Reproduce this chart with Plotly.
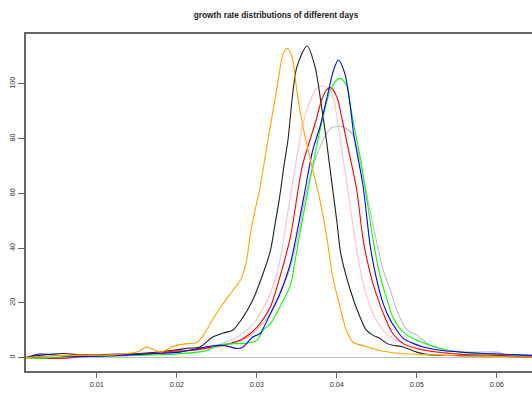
import plotly.graph_objects as go

title_text = "growth rate distributions of different days"

orange_x = [0.0012, 0.004, 0.008, 0.012, 0.0152, 0.0161, 0.017, 0.018, 0.0195, 0.021, 0.0225, 0.0235, 0.0245, 0.0255, 0.027, 0.028, 0.0287, 0.0292, 0.0298, 0.0304, 0.0314, 0.0325, 0.0333, 0.0338, 0.0344, 0.035, 0.0356, 0.0364, 0.037, 0.0379, 0.0388, 0.0395, 0.0404, 0.0412, 0.042, 0.0437, 0.0455, 0.048, 0.052, 0.056, 0.062, 0.0645]
orange_y = [0, 0.6, 0.9, 1, 2.2, 3.8, 3, 2, 4, 5, 5.5, 9, 14, 18.5, 24.5, 28.5, 35, 45, 54, 62, 79.5, 98, 111, 113, 110, 97.7, 87, 76, 68.5, 57.5, 43, 29.5, 18.5, 10, 5.7, 4, 2.5, 1.5, 1, 0.6, 0.3, 0.2]

black_x = [0.0012, 0.0029, 0.0058, 0.0079, 0.0117, 0.0154, 0.0195, 0.0213, 0.0229, 0.0245, 0.0258, 0.027, 0.0283, 0.0295, 0.0308, 0.0317, 0.0323, 0.0328, 0.0334, 0.0339, 0.035, 0.0363, 0.0373, 0.0381, 0.0387, 0.0392, 0.04, 0.0405, 0.0417, 0.0429, 0.0437, 0.0445, 0.0454, 0.0463, 0.047, 0.0483, 0.05, 0.0516, 0.0554, 0.0604, 0.0645]
black_y = [0, 0.8, 1.5, 1, 1.2, 1.5, 2.7, 3.4, 3.9, 7.5, 9, 10, 14.8, 21, 30.8, 39, 49, 57.5, 70, 79.5, 106, 113.8, 106, 91.6, 79.5, 68, 50, 38, 24.6, 14.8, 10, 8.2, 7, 5.1, 4.5, 3.9, 2, 1, 0.7, 0.5, 0.2]

blue_x = [0.0012, 0.0029, 0.006, 0.01, 0.014, 0.0175, 0.0204, 0.0229, 0.0254, 0.0267, 0.0275, 0.0283, 0.0295, 0.0304, 0.0317, 0.0329, 0.0342, 0.0358, 0.037, 0.0379, 0.0388, 0.0396, 0.0402, 0.041, 0.0417, 0.0421, 0.0433, 0.0442, 0.045, 0.0458, 0.0467, 0.0475, 0.0483, 0.0496, 0.0508, 0.0529, 0.0579, 0.0629, 0.0645]
blue_y = [0, 1.3, 0.6, 0.5, 1, 1.5, 2, 3.5, 4.5, 3.9, 3.3, 3.9, 7.5, 8.8, 16, 23.4, 34.4, 57.5, 75.8, 84.3, 95.3, 105, 108.7, 103.8, 91.6, 82, 62.4, 40.4, 28.3, 19.7, 13.6, 10, 7, 5.1, 3.9, 2.7, 1.6, 1, 0.8]

green_x = [0.0012, 0.003, 0.006, 0.01, 0.015, 0.0195, 0.0225, 0.0238, 0.025, 0.0263, 0.0275, 0.0288, 0.03, 0.0308, 0.0317, 0.0329, 0.0342, 0.0348, 0.036, 0.0372, 0.0379, 0.0392, 0.04, 0.0405, 0.0413, 0.0417, 0.0422, 0.043, 0.0438, 0.0446, 0.0454, 0.0463, 0.047, 0.0479, 0.0488, 0.05, 0.0517, 0.0538, 0.056, 0.06, 0.0645]
green_y = [0, -0.3, 0.3, 0.5, 0.8, 1.2, 2, 2.5, 4.5, 5, 5.1, 5.3, 6.3, 10, 12.4, 18.5, 26.4, 35.6, 55, 73, 83, 97.7, 101.4, 102, 99, 92, 84, 72, 57, 42, 30, 21, 14.8, 10.6, 8.2, 6.3, 4.5, 2.7, 1.8, 1.2, 0.8]

red_x = [0.0012, 0.004, 0.006, 0.009, 0.013, 0.017, 0.0195, 0.022, 0.0245, 0.0263, 0.0279, 0.0292, 0.0304, 0.0317, 0.0329, 0.0342, 0.0357, 0.0373, 0.0381, 0.0387, 0.0392, 0.04, 0.0406, 0.0412, 0.0425, 0.0433, 0.0444, 0.0452, 0.046, 0.047, 0.0483, 0.05, 0.0517, 0.055, 0.06, 0.0645]
red_y = [0, -0.3, -0.2, 0.5, 1, 1.5, 2.3, 2.7, 3.9, 4.9, 6.3, 8.8, 12.4, 18.5, 29.5, 44, 70, 85.6, 94, 97.7, 98.6, 95.3, 88, 79.5, 61.2, 42.9, 28.3, 21, 14.8, 8.8, 5.1, 3.3, 2.3, 1.3, 0.8, 0.5]

pink_x = [0.0012, 0.003, 0.008, 0.012, 0.016, 0.0195, 0.0225, 0.0245, 0.0267, 0.0279, 0.0292, 0.0304, 0.0317, 0.0329, 0.0338, 0.0346, 0.0358, 0.0367, 0.0375, 0.0383, 0.0392, 0.0398, 0.0402, 0.0414, 0.0423, 0.0432, 0.0442, 0.0452, 0.0464, 0.0475, 0.0492, 0.0517, 0.055, 0.06, 0.0645]
pink_y = [0, 0.8, 0.8, 1, 1.5, 2.5, 3.5, 4.1, 6.3, 8.2, 11.2, 16, 23.4, 35.6, 51.4, 66, 85.6, 94, 98.3, 99.2, 97.7, 91.6, 84, 61, 42.9, 28.3, 18.5, 12.4, 8.2, 6.3, 3.9, 2.5, 1.5, 1, 0.5]

gray_x = [0.0012, 0.003, 0.008, 0.013, 0.017, 0.02, 0.0229, 0.0254, 0.0279, 0.0292, 0.0317, 0.0342, 0.0354, 0.0358, 0.037, 0.0383, 0.0392, 0.0402, 0.0408, 0.0419, 0.0425, 0.0438, 0.0447, 0.0458, 0.0467, 0.0475, 0.0488, 0.05, 0.0504, 0.0517, 0.0538, 0.057, 0.06, 0.062, 0.0645]
gray_y = [0, 0.5, 0.8, 1, 1.3, 2, 3, 4, 6, 8, 16, 33, 48, 55, 69.7, 79.5, 83.7, 84.5, 84.2, 81.9, 77, 59, 46, 32, 24.6, 17.3, 10, 8.2, 7.3, 4.5, 2.7, 2, 2, 0.3, 0.3]

series = [
    (gray_x, gray_y, "#BEBEBE"),
    (pink_x, pink_y, "#FFC0CB"),
    (black_x, black_y, "#222222"),
    (red_x, red_y, "#FF0000"),
    (green_x, green_y, "#00FF00"),
    (blue_x, blue_y, "#0000FF"),
    (orange_x, orange_y, "#FFA500"),
]

x_ticks = [0.01, 0.02, 0.03, 0.04, 0.05, 0.06]
y_ticks = [0, 20, 40, 60, 80, 100]

fig = go.Figure()
for xs, ys, col in series:
    fig.add_trace(go.Scatter(x=xs, y=ys, mode="lines", line=dict(color=col, width=1.1, shape="spline", smoothing=0.8),
                             showlegend=False, hoverinfo="skip"))

font = "Liberation Sans, Arial, sans-serif"
fig.update_layout(
    width=532, height=394,
    margin=dict(l=26, r=0, t=34, b=23),
    paper_bgcolor="white", plot_bgcolor="white",
    title=dict(text="<b>" + title_text + "</b>", x=276/532, xanchor="center", y=1-15/394, yanchor="middle",
               font=dict(family=font, size=8.3, color="#222")),
    xaxis=dict(range=[0.00116, 0.0644], tickvals=x_ticks, ticktext=[str(v) for v in x_ticks],
               showgrid=False, zeroline=False, showline=True, mirror=True, linecolor="#666", linewidth=1.5,
               ticks="outside", ticklen=5, tickcolor="#666", tickfont=dict(family=font, size=7.3, color="#333")),
    yaxis=dict(range=[-4.9, 118.2], tickvals=y_ticks, ticktext=[str(v) for v in y_ticks], tickangle=-90,
               showgrid=False, zeroline=True, zerolinecolor="#BEBEBE", zerolinewidth=1,
               showline=True, mirror=False, linecolor="#666", linewidth=1.5,
               ticks="outside", ticklen=6, tickcolor="#666", tickfont=dict(family=font, size=7.3, color="#333")),
)

fig.write_html("out.html")
